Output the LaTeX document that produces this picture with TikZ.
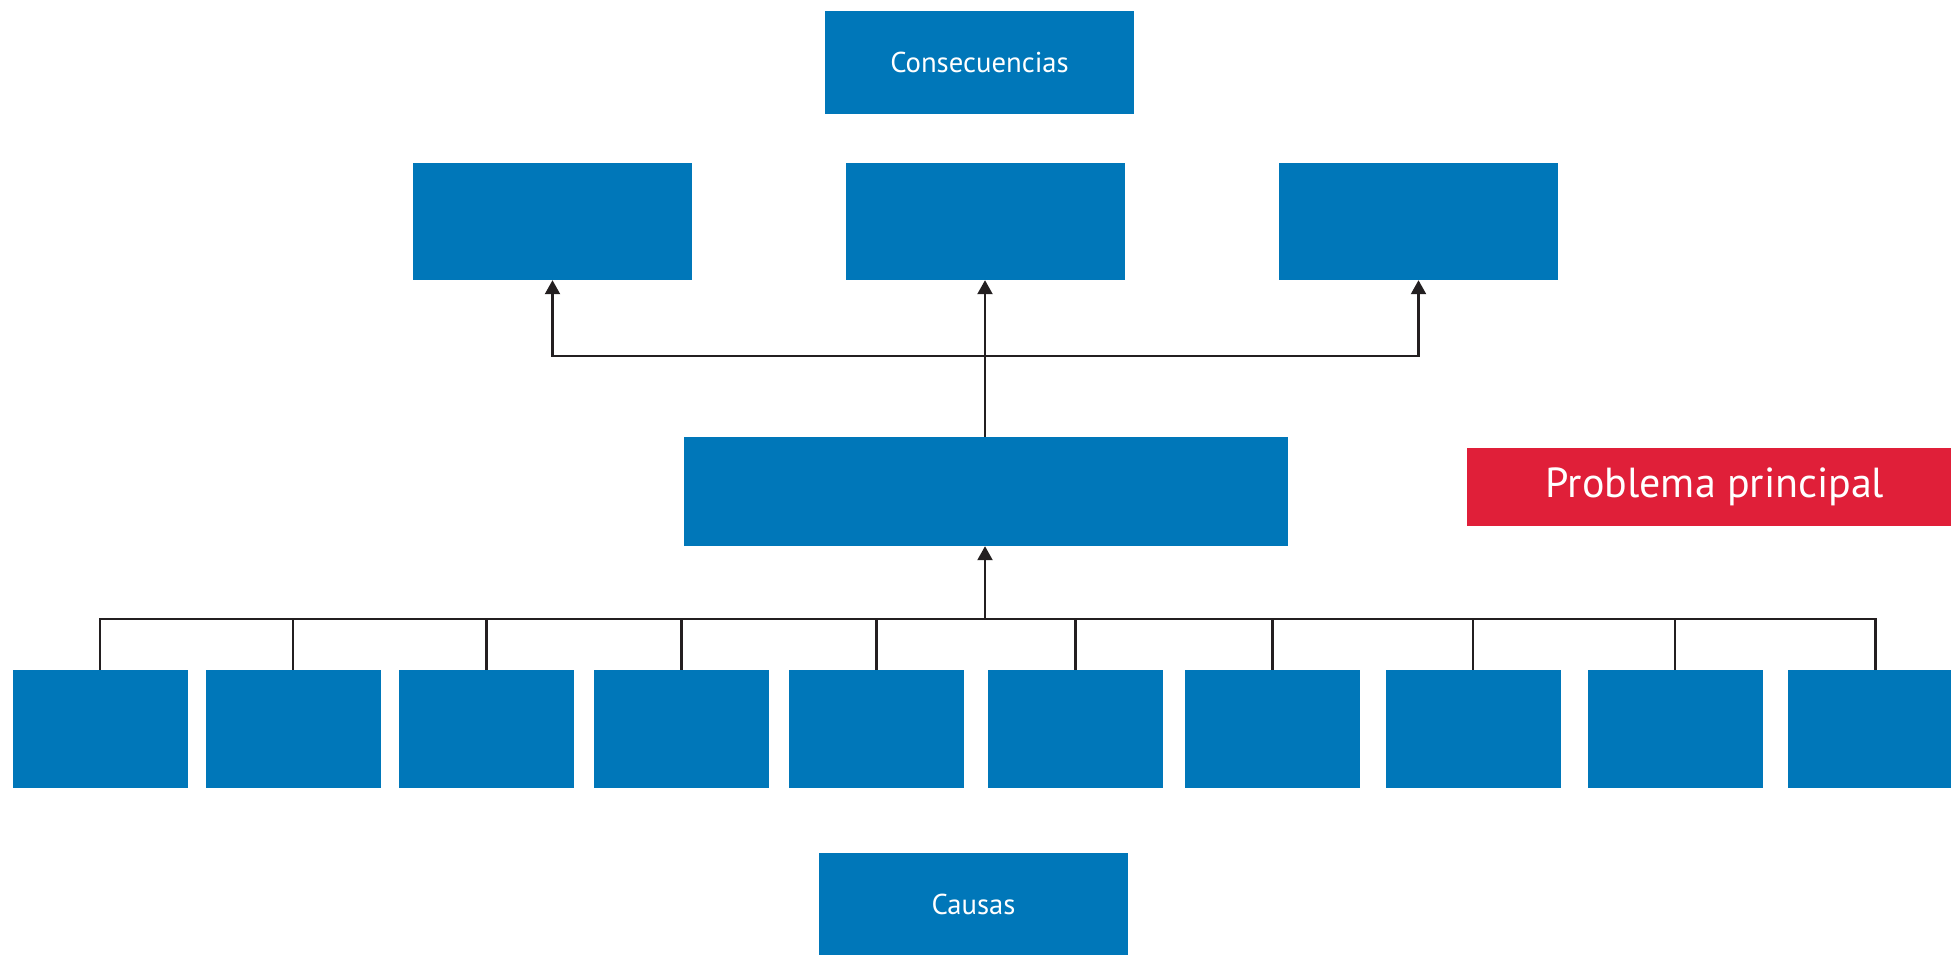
\documentclass[tikz,border=0pt]{standalone}
\usepackage{fontspec}
\setmainfont{PT Sans}
\usetikzlibrary{arrows.meta}
\definecolor{boxblue}{RGB}{0,119,185}
\definecolor{boxred}{RGB}{224,31,57}
\definecolor{linegray}{RGB}{35,31,32}
\begin{document}
\begin{tikzpicture}[x=1pt,y=-1pt,
  bluebox/.style={fill=boxblue,draw=none,inner sep=0pt,text=white},
  topbox/.style={bluebox,minimum width=279pt,minimum height=117pt},
  causebox/.style={bluebox,minimum width=175pt,minimum height=118pt},
  labelbox/.style={bluebox,minimum width=309pt,minimum height=103pt,font=\fontsize{28.7}{34}\selectfont},
  conn/.style={draw=linegray,line width=2.2pt},
  arr/.style={conn,-{Triangle[width=15pt,length=14pt]}}]
\useasboundingbox (0,0) rectangle (1951,954);
\node[labelbox] (cons) at (979.5,62.5) {Consecuencias};
\node[labelbox] (caus) at (973.5,904.5) {Causas};
\node[topbox] (c1) at (552.5,221.5) {};
\node[topbox] (c2) at (985,221.5) {};
\node[topbox] (c3) at (1418.5,221.5) {};
\node[bluebox,minimum width=604pt,minimum height=109pt] (main) at (986,491.5) {};
\node[fill=boxred,inner sep=0pt,minimum width=484pt,minimum height=78pt,text=white,font=\fontsize{42}{48}\selectfont] (prob) at (1709,487) {\hspace{12pt}Problema principal};
\foreach \i/\x in {1/100,2/293,3/486.5,4/681.5,5/876.5,6/1075.5,7/1272.5,8/1473,9/1675,10/1875.5}
  \node[causebox] (b\i) at (\x,729) {};
\coordinate (tb) at (985,356);
\coordinate (bb) at (985,619);
\draw[arr] (main.north -| c2.south) -- (c2.south);
\draw[arr] (tb) -| (c1.south);
\draw[arr] (tb) -| (c3.south);
\draw[arr] (bb) -- (bb |- main.south);
\foreach \i in {1,...,10}
  \draw[conn] (b\i.north) |- (bb);
\end{tikzpicture}
\end{document}
